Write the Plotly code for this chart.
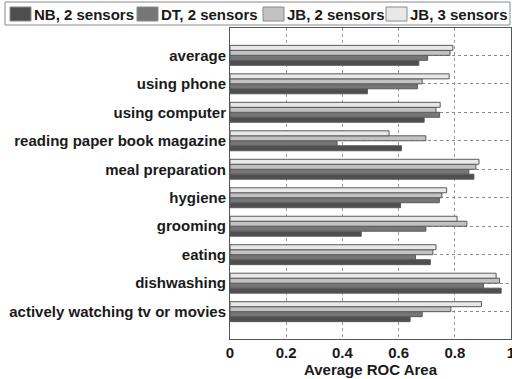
import plotly.graph_objects as go

categories = ["actively watching tv or movies", "dishwashing", "eating", "grooming",
              "hygiene", "meal preparation", "reading paper book magazine",
              "using computer", "using phone", "average"]
nb2 = [0.641, 0.965, 0.713, 0.467, 0.607, 0.868, 0.610, 0.691, 0.489, 0.672]
dt2 = [0.684, 0.902, 0.660, 0.697, 0.745, 0.850, 0.381, 0.746, 0.667, 0.703]
jb2 = [0.786, 0.959, 0.722, 0.843, 0.754, 0.875, 0.697, 0.733, 0.684, 0.783]
jb3 = [0.895, 0.947, 0.733, 0.808, 0.771, 0.886, 0.566, 0.748, 0.780, 0.793]

names = ["NB, 2 sensors", "DT, 2 sensors", "JB, 2 sensors", "JB, 3 sensors"]
colors = ["#4e4e4e", "#767676", "#c2c2c2", "#e8e8e8"]
values = [nb2, dt2, jb2, jb3]

W, H = 512, 379
L, R, T, B = 230, 1, 28, 40
pw, ph = W - L - R, H - T - B

def px(x):
    return (x - L) / pw

def py(y):
    return (H - B - y) / ph

fig = go.Figure()
for name, vals, col in zip(names, values, colors):
    fig.add_trace(go.Bar(y=categories, x=vals, name=name, orientation="h",
                         marker=dict(color=col, line=dict(color="#5a5a5a", width=1))))

font = "Liberation Sans, Arial, sans-serif"

# manual legend (one row, boxed) above the plot
shapes = [dict(type="rect", xref="paper", yref="paper", x0=px(5), x1=px(510),
               y0=py(25), y1=py(2), line=dict(color="#8a8a8a", width=1),
               fillcolor="white", layer="above")]
annotations = []
sw_x = [10, 137, 263, 386]
for i, (name, col) in enumerate(zip(names, colors)):
    x0 = sw_x[i]
    shapes.append(dict(type="rect", xref="paper", yref="paper", x0=px(x0), x1=px(x0 + 21),
                       y0=py(21), y1=py(7), line=dict(color="#8a8a8a", width=1),
                       fillcolor=col, layer="above"))
    annotations.append(dict(text=name, xref="paper", yref="paper", x=px(x0 + 22), y=py(14),
                            xanchor="left", yanchor="middle", showarrow=False,
                            font=dict(size=15, family=font, weight="bold", color="#1a1a1a")))

fig.update_layout(
    width=W, height=H,
    margin=dict(l=L, r=R, t=T, b=B, autoexpand=False),
    paper_bgcolor="white", plot_bgcolor="white",
    barmode="group", bargap=0.30, bargroupgap=0,
    font=dict(family=font, size=15, color="#1a1a1a"),
    showlegend=False,
    shapes=shapes, annotations=annotations,
    xaxis=dict(range=[0, 1], dtick=0.2, showgrid=True, gridcolor="#9a9a9a", griddash="dot",
               gridwidth=1, showline=True, linecolor="#555555", mirror=True,
               ticks="", tickfont=dict(size=15, weight="bold"), ticklabeloverflow="allow",
               title=dict(text="Average ROC Area", font=dict(size=15, weight="bold"), standoff=0),
               zeroline=False),
    yaxis=dict(range=[-0.96, 9.96], showgrid=True, gridcolor="#8a8a8a", griddash="dot",
               gridwidth=1, showline=True, linecolor="#555555", mirror=True, ticks="",
               tickfont=dict(size=15, weight="bold"), automargin=False),
)
fig.write_html("out.html", config={"displayModeBar": False},
               post_script="document.body.style.margin='0';document.body.style.overflow='hidden';")
